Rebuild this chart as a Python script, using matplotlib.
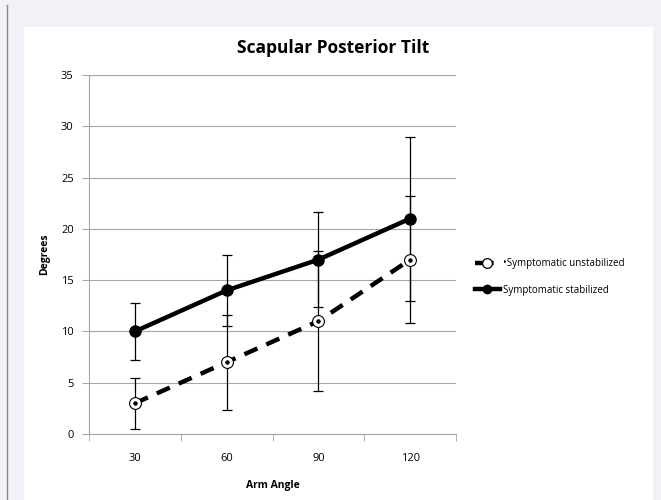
import matplotlib as mpl
import matplotlib.pyplot as plt
import numpy as np
from matplotlib.patches import Rectangle
from matplotlib.lines import Line2D

mpl.rcParams.update({
    "font.family": ["Open Sans", "DejaVu Sans"],
    "font.size": 8,
})

# data
angles = ["30", "60", "90", "120"]
unstab = [3, 7, 11, 17]
unstab_err = [2.5, 4.65, 6.8, 6.2]
stab = [10, 14, 17, 21]
stab_err = [2.75, 3.45, 4.6, 8.0]

fig = plt.figure(figsize=(6.61, 5.0), dpi=100)
fig.patch.set_facecolor('#F1F2F7')
fig.patches.append(Rectangle((24 / 661, 0), (653 - 24) / 661, (500 - 27) / 500,
                             transform=fig.transFigure, facecolor='white',
                             edgecolor='none', zorder=-10))
fig.add_artist(Line2D([7 / 661, 7 / 661], [0, 0.99], transform=fig.transFigure,
                      color='#888888', lw=1.0, zorder=-5))

ax = fig.add_axes([89 / 661, (500 - 434) / 500, (456 - 89) / 661, (434 - 75) / 500])
ax.set_zorder(1)
ax.set_facecolor('white')
x = np.arange(len(angles))

ax.errorbar(x, stab, yerr=stab_err, fmt='none', ecolor='black', elinewidth=0.9,
            capsize=3.5, capthick=0.9, zorder=3)
ax.errorbar(x, unstab, yerr=unstab_err, fmt='none', ecolor='black', elinewidth=0.9,
            capsize=3.5, capthick=0.9, zorder=3)

ax.plot(x, stab, color='black', lw=3.2, marker='o', ms=8, mfc='black', mec='black',
        zorder=4, solid_capstyle='round')
ax.plot(x, unstab, color='black', lw=3.2, ls=(0, (3.2, 2.2)), zorder=4)
ax.plot(x, unstab, ls='none', marker='o', ms=8.5, mfc='white', mec='black', mew=0.8, zorder=5)
ax.plot(x, unstab, ls='none', marker='o', ms=2.2, mfc='black', mec='black', zorder=6)

ax.set_xlim(-0.5, 3.5)
ax.set_ylim(0, 35)
ax.set_yticks(np.arange(0, 36, 5))
ax.set_xticks(x)
ax.set_xticklabels(angles)
ax.set_xticks(np.arange(-0.5, 3.6, 1), minor=True)
ax.tick_params(axis='x', which='major', length=0, pad=14, labelsize=8)
ax.tick_params(axis='x', which='minor', length=5, color='#A6A6A6', direction='out')
ax.tick_params(axis='y', length=5, color='#A6A6A6', direction='out', pad=6, labelsize=8)
ax.grid(axis='y', color='#A6A6A6', lw=0.8)
ax.set_axisbelow(True)
for s in ['top', 'right']:
    ax.spines[s].set_visible(False)
for s in ['left', 'bottom']:
    ax.spines[s].set_color('#A6A6A6')
    ax.spines[s].set_linewidth(0.8)

ax.set_xlabel('Arm Angle', fontsize=7.5, fontweight='bold', labelpad=11)
ax.set_ylabel('Degrees', fontsize=7.5, fontweight='bold', labelpad=8)
fig.text(333 / 661, 1 - 48 / 500, 'Scapular Posterior Tilt', ha='center', va='center',
         fontsize=12.5, fontweight='bold')

h_un = (Line2D([], [], color='black', lw=3.2, ls=(0, (4.2, 10))),
        Line2D([], [], ls='none', marker='o', ms=7, mfc='white', mec='black', mew=0.9))
h_st = Line2D([], [], color='black', lw=3.2, marker='o', ms=6, mfc='black', mec='black')
fig.legend([h_un, h_st], ['\u2022Symptomatic unstabilized', 'Symptomatic stabilized'],
           loc='center left', bbox_to_anchor=(466 / 661, 1 - 277 / 500), frameon=False,
           fontsize=7, handlelength=2.6, handletextpad=0.3, labelspacing=1.6)

fig.savefig('out.png', dpi=100, facecolor=fig.get_facecolor())
